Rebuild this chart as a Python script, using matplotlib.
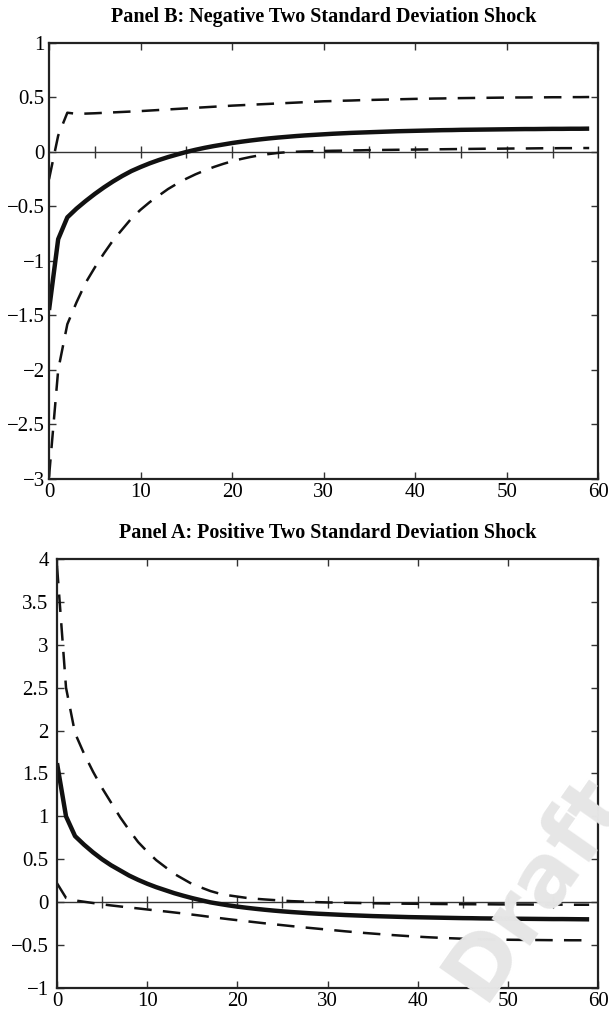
import numpy as np
from matplotlib import pyplot as plt
from matplotlib.ticker import FuncFormatter

plt.rcParams['font.family'] = ['Liberation Serif', 'DejaVu Serif']

horizon = np.arange(60)

# Panel B: negative two standard deviation shock
neg_irf = [-1.45, -0.80, -0.60, -0.52, -0.45, -0.385, -0.325, -0.27, -0.22, -0.175,
           -0.138, -0.104, -0.074, -0.047, -0.023, 0.0, 0.02, 0.038, 0.054, 0.068,
           0.082, 0.094, 0.105, 0.115, 0.124, 0.132, 0.139, 0.146, 0.152, 0.157,
           0.162, 0.167, 0.171, 0.175, 0.178, 0.181, 0.184, 0.187, 0.19, 0.192,
           0.194, 0.196, 0.198, 0.2, 0.201, 0.203, 0.204, 0.205, 0.206, 0.207,
           0.208, 0.209, 0.21, 0.21, 0.211, 0.212, 0.212, 0.213, 0.213, 0.214]
neg_upper = [-0.25, 0.15, 0.36, 0.35, 0.352, 0.355, 0.359, 0.363, 0.367, 0.371,
             0.375, 0.38, 0.385, 0.39, 0.395, 0.40, 0.405, 0.41, 0.415, 0.42,
             0.425, 0.429, 0.433, 0.437, 0.441, 0.445, 0.449, 0.453, 0.457, 0.461,
             0.465, 0.467, 0.47, 0.472, 0.475, 0.477, 0.479, 0.481, 0.483, 0.485,
             0.487, 0.488, 0.49, 0.491, 0.493, 0.494, 0.495, 0.496, 0.497, 0.498,
             0.499, 0.5, 0.5, 0.501, 0.501, 0.502, 0.502, 0.503, 0.503, 0.504]
neg_lower = [-2.98, -2.0, -1.58, -1.38, -1.2, -1.06, -0.93, -0.81, -0.71, -0.61,
             -0.53, -0.46, -0.40, -0.34, -0.29, -0.245, -0.205, -0.17, -0.138, -0.11,
             -0.085, -0.064, -0.046, -0.031, -0.019, -0.009, -0.002, 0.002, 0.005, 0.007,
             0.009, 0.011, 0.012, 0.014, 0.015, 0.017, 0.018, 0.019, 0.02, 0.021,
             0.022, 0.023, 0.024, 0.025, 0.026, 0.027, 0.028, 0.029, 0.03, 0.03,
             0.031, 0.032, 0.032, 0.033, 0.034, 0.034, 0.035, 0.035, 0.036, 0.036]

# Panel A: positive two standard deviation shock
pos_irf = [1.62, 1.0, 0.77, 0.67, 0.58, 0.50, 0.43, 0.37, 0.31, 0.26,
           0.215, 0.175, 0.14, 0.105, 0.075, 0.047, 0.022, -0.002, -0.02, -0.037,
           -0.052, -0.065, -0.077, -0.088, -0.098, -0.107, -0.115, -0.122, -0.129, -0.135,
           -0.14, -0.145, -0.15, -0.154, -0.158, -0.162, -0.165, -0.168, -0.171, -0.174,
           -0.176, -0.178, -0.18, -0.182, -0.184, -0.186, -0.187, -0.189, -0.19, -0.191,
           -0.192, -0.193, -0.194, -0.195, -0.196, -0.197, -0.197, -0.198, -0.199, -0.2]
pos_upper = [3.92, 2.5, 1.97, 1.73, 1.52, 1.33, 1.16, 0.99, 0.84, 0.70,
             0.59, 0.49, 0.41, 0.33, 0.27, 0.21, 0.17, 0.13, 0.10, 0.08,
             0.065, 0.05, 0.04, 0.032, 0.025, 0.018, 0.012, 0.008, 0.004, 0.0,
             -0.003, -0.005, -0.007, -0.009, -0.011, -0.013, -0.014, -0.016, -0.017, -0.018,
             -0.019, -0.02, -0.021, -0.022, -0.023, -0.024, -0.024, -0.025, -0.025, -0.026,
             -0.026, -0.027, -0.027, -0.028, -0.028, -0.029, -0.029, -0.03, -0.03, -0.03]
pos_lower = [0.22, 0.05, 0.02, 0.005, -0.01, -0.025, -0.038, -0.05, -0.062, -0.073,
             -0.085, -0.097, -0.108, -0.12, -0.132, -0.145, -0.158, -0.172, -0.185, -0.198,
             -0.21, -0.222, -0.234, -0.246, -0.257, -0.268, -0.279, -0.29, -0.30, -0.31,
             -0.32, -0.33, -0.34, -0.349, -0.358, -0.366, -0.374, -0.382, -0.389, -0.396,
             -0.402, -0.408, -0.413, -0.418, -0.422, -0.426, -0.429, -0.432, -0.434, -0.436,
             -0.438, -0.439, -0.44, -0.441, -0.442, -0.443, -0.443, -0.444, -0.444, -0.445]

zero_ticks = np.arange(5, 60, 5)


def fmt(v, pos):
    return ('%g' % v).replace('-', '\u2212')


def panel(ax, title, irf, upper, lower, yticks, ypad):
    ax.set_facecolor('none')
    ax.axhline(0, color='#333333', lw=1.0, zorder=1)
    ax.plot(zero_ticks, np.zeros(len(zero_ticks)), ls='none', marker='|',
            ms=9, mew=1.0, color='#333333', zorder=1)
    ax.plot(horizon, upper, color='#111111', lw=1.8, dashes=(7, 4.5))
    ax.plot(horizon, lower, color='#111111', lw=1.8, dashes=(7, 4.5))
    ax.plot(horizon, irf, color='#111111', lw=3.2, solid_capstyle='butt')
    ax.set_xlim(0, 60)
    ax.set_ylim(yticks[0], yticks[-1])
    ax.set_xticks(np.arange(0, 61, 10))
    ax.set_yticks(yticks)
    ax.yaxis.set_major_formatter(FuncFormatter(fmt))
    ax.tick_params(direction='in', length=5, width=1.0, top=True, right=True,
                   labelsize=15, pad=3, color='#333333')
    ax.tick_params(axis='y', pad=ypad)
    for s in ax.spines.values():
        s.set_linewidth(1.6)
        s.set_color('#222222')
    ax.set_title(title, fontsize=14.5, fontweight='bold', pad=15)


fig = plt.figure(figsize=(6.09, 10.18), dpi=100)
fig.text(0.878, 0.128, 'Draft', rotation=55, fontsize=62, fontweight='bold',
         family='DejaVu Sans', color='#e6e6e6', ha='center', va='center', zorder=0)

ax_b = fig.add_axes([0.0805, 0.5295, 0.902, 0.4283])
panel(ax_b, 'Panel B: Negative Two Standard Deviation Shock',
      neg_irf, neg_upper, neg_lower, np.arange(-3, 1.01, 0.5), 3)

ax_a = fig.add_axes([0.0936, 0.0295, 0.8886, 0.4214])
panel(ax_a, 'Panel A: Positive Two Standard Deviation Shock',
      pos_irf, pos_upper, pos_lower, np.arange(-1, 4.01, 0.5), 6)

fig.savefig('out.png', dpi=100)
